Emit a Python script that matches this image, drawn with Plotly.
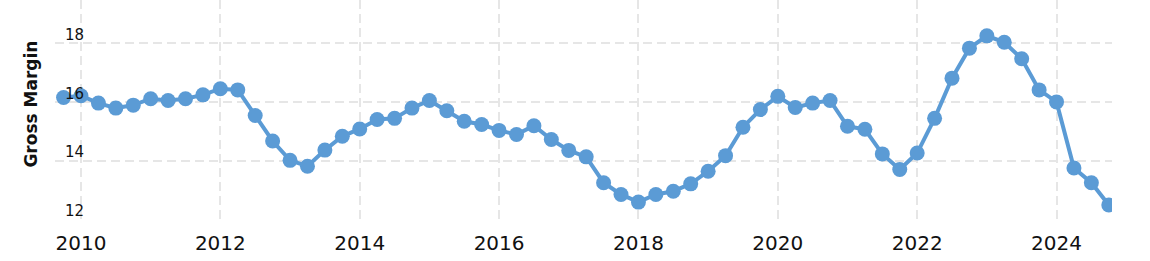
import plotly.graph_objects as go

quarters = [2009.75 + 0.25 * i for i in range(61)]
gross_margin = [
    16.15, 16.21, 15.96, 15.79, 15.89, 16.11, 16.05, 16.11, 16.24, 16.45,
    16.41, 15.54, 14.67, 14.01, 13.81, 14.36, 14.83, 15.08, 15.40, 15.44,
    15.79, 16.05, 15.70, 15.34, 15.23, 15.03, 14.89, 15.19, 14.72, 14.35,
    14.13, 13.25, 12.85, 12.59, 12.85, 12.96, 13.21, 13.64, 14.17, 15.14,
    15.74, 16.19, 15.81, 15.96, 16.05, 15.17, 15.07, 14.23, 13.70, 14.26,
    15.44, 16.81, 17.83, 18.25, 18.03, 17.47, 16.41, 16.00, 13.75, 13.25,
    12.49,
]
x_ticks = [2010, 2012, 2014, 2016, 2018, 2020, 2022, 2024]
x_tick_labels = ["2010", "2012", "2014", "2016", "2018", "2020", "2022", "2024"]
y_ticks = [12, 14, 16, 18]
y_tick_labels = ["12", "14", "16", "18"]

y_range = [11.98, 19.47]

fig = go.Figure()
# invisible copy on the label axis so that it is drawn with the same scale
fig.add_trace(go.Scatter(
    x=quarters, y=gross_margin, mode="lines", yaxis="y2",
    line=dict(color="rgba(0,0,0,0)", width=0), hoverinfo="skip",
    showlegend=False,
))
fig.add_trace(go.Scatter(
    x=quarters, y=gross_margin, mode="lines+markers",
    line=dict(color="#5b9bd5", width=4),
    marker=dict(color="#5b9bd5", size=15),
    showlegend=False,
))

fig.update_layout(
    width=1150, height=261,
    margin=dict(l=55, r=38, t=0, b=41),
    paper_bgcolor="white", plot_bgcolor="white",
    font=dict(family="DejaVu Sans, Verdana, sans-serif", color="#111111"),
    xaxis=dict(
        range=[2009.627, 2024.796],
        tickmode="array", tickvals=x_ticks, ticktext=x_tick_labels,
        tickfont=dict(size=20, color="#111111"),
        ticklabelstandoff=9,
        showgrid=True, gridcolor="#e6e6e6", gridwidth=2, griddash="9px,5px",
        zeroline=False, showline=False, ticks="",
    ),
    yaxis=dict(
        range=y_range,
        tickmode="array", tickvals=y_ticks,
        showticklabels=False,
        showgrid=True, gridcolor="#e6e6e6", gridwidth=2, griddash="9px,5px",
        zeroline=False, showline=False, ticks="",
        title=dict(text="<b>&nbsp;&nbsp;Gross Margin</b>", font=dict(size=17, color="#111111"), standoff=12),
    ),
    yaxis2=dict(
        range=y_range, overlaying="y", anchor="free", position=0.0275, side="left",
        tickmode="array", tickvals=y_ticks, ticktext=y_tick_labels,
        tickfont=dict(size=15, color="#111111"),
        ticklabelposition="outside top", ticklabelshift=2,
        showgrid=False, zeroline=False, showline=False, ticks="",
    ),
)

fig.write_html("out.html")
